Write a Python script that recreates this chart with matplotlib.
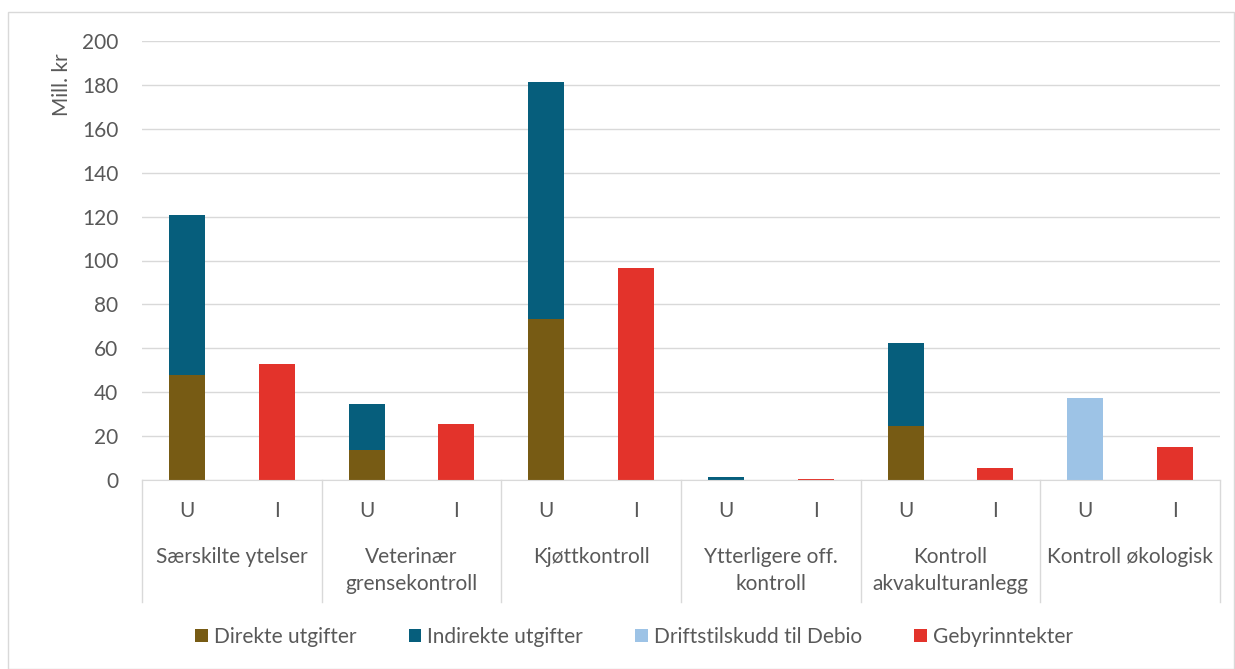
import matplotlib
matplotlib.use("Agg")
import matplotlib.pyplot as plt
from matplotlib.patches import Patch, Rectangle
import matplotlib.transforms as mtrans

groups = ["Særskilte ytelser", "Veterinær\ngrensekontroll", "Kjøttkontroll",
          "Ytterligere off.\nkontroll", "Kontroll\nakvakulturanlegg", "Kontroll økologisk"]
sub_labels = ["U", "I"]
series_names = ["Direkte utgifter", "Indirekte utgifter", "Driftstilskudd til Debio", "Gebyrinntekter"]
colors = ["#775B14", "#065E7C", "#9DC3E6", "#E3332B"]

# values per slot (U, I for each group)
direkte = [48, 0, 13.5, 0, 73.5, 0, 0.2, 0, 24.5, 0, 0, 0]
indirekte = [72.7, 0, 21, 0, 108, 0, 1.0, 0, 38, 0, 0, 0]
debio = [0, 0, 0, 0, 0, 0, 0, 0, 0, 0, 37.5, 0]
gebyr = [0, 53, 0, 25.5, 0, 96.5, 0, 0.3, 0, 5.5, 0, 15]

yticks = list(range(0, 201, 20))

plt.rcParams['font.family'] = ['Lato', 'DejaVu Sans']
txt = "#595959"
fs = 15

fig = plt.figure(figsize=(12.35, 6.69), dpi=100)
ax = fig.add_axes([142/1235, 1-480/669, (1220-142)/1235, (480-41)/669])

x = list(range(len(direkte)))
w = 0.4
bottom2 = [a for a in direkte]
bottom3 = [a + b for a, b in zip(direkte, indirekte)]
ax.bar(x, direkte, w, color=colors[0], zorder=3)
ax.bar(x, indirekte, w, bottom=bottom2, color=colors[1], zorder=3)
ax.bar(x, debio, w, bottom=bottom3, color=colors[2], zorder=3)
ax.bar(x, gebyr, w, color=colors[3], zorder=3)

ax.set_xlim(-0.5, len(x) - 0.5)
ax.set_ylim(0, 200)
ax.set_yticks(yticks)
ax.tick_params(axis='y', length=0, labelsize=fs, labelcolor=txt, pad=17)
ax.tick_params(axis='x', length=0)
ax.set_xticks([])
ax.grid(axis='y', color="#D9D9D9", linewidth=1, zorder=0)
for s in ['top', 'right', 'left']:
    ax.spines[s].set_visible(False)
ax.spines['bottom'].set_color("#D9D9D9")
ax.spines['bottom'].set_zorder(4)

trans = mtrans.blended_transform_factory(ax.transData, ax.transAxes)
# sub labels
for i in x:
    ax.text(i, -0.07, sub_labels[i % 2], transform=trans, ha='center', va='center',
            fontsize=fs, color=txt)
# group labels
for g, name in enumerate(groups):
    ax.text(2 * g + 0.5, -0.153, name, transform=trans, ha='center', va='top',
            fontsize=fs, color=txt, linespacing=1.45)
# separators
for g in range(len(groups) + 1):
    xs = 2 * g - 0.5
    ax.plot([xs, xs], [0, -0.278], transform=trans, color="#D9D9D9", lw=1, clip_on=False)

fig.text(62/1235, 1-85/669, "Mill. kr", rotation=90, ha='center', va='center',
         fontsize=fs, color=txt)

handles = [Patch(facecolor=c, edgecolor='none') for c in colors]
fig.legend(handles, series_names, loc='center', bbox_to_anchor=(634/1235, 1-637/669),
           ncol=4, frameon=False, fontsize=fs, labelcolor=txt, handlelength=0.6,
           handleheight=0.6, handletextpad=0.3, columnspacing=2.5)

fig.patches.append(Rectangle((8/1235, 0), 1 - 8/1235 - 0.001, 1 - 12/669, transform=fig.transFigure,
                             fill=False, edgecolor="#D9D9D9", lw=1))

fig.savefig("out.png", dpi=100, facecolor="white")
